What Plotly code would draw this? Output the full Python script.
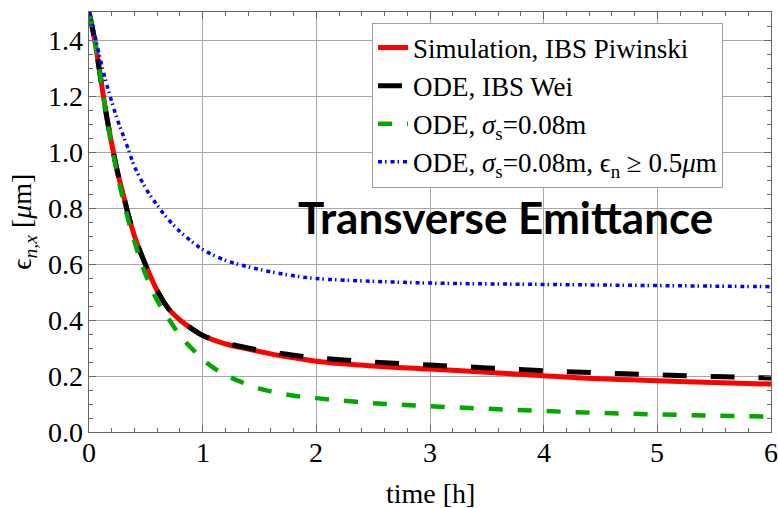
import plotly.graph_objects as go

# ---- data ----
t_red = [0, 0.05, 0.1, 0.15, 0.2, 0.25, 0.3, 0.35, 0.4, 0.45, 0.5, 0.6, 0.7, 0.8, 0.9, 1.0,
         1.2, 1.4, 1.6, 1.8, 2.0, 2.5, 3.0, 3.5, 4.0, 4.5, 5.0, 5.5, 6.0]
v_red = [1.50, 1.40, 1.27, 1.14, 1.03, 0.93, 0.85, 0.77, 0.70, 0.645, 0.595, 0.505, 0.44, 0.40, 0.37, 0.345,
         0.315, 0.296, 0.279, 0.265, 0.253, 0.236, 0.225, 0.213, 0.201, 0.190, 0.183, 0.177, 0.171]

t_black = [0, 0.05, 0.1, 0.15, 0.2, 0.25, 0.3, 0.35, 0.4, 0.45, 0.5, 0.6, 0.7, 0.8, 0.9, 1.0,
           1.2, 1.4, 1.6, 1.8, 2.0, 2.5, 3.0, 3.5, 4.0, 4.5, 5.0, 5.5, 6.0]
v_black = [1.50, 1.40, 1.27, 1.14, 1.03, 0.93, 0.85, 0.77, 0.70, 0.645, 0.595, 0.505, 0.44, 0.40, 0.37, 0.345,
           0.318, 0.300, 0.286, 0.274, 0.265, 0.250, 0.239, 0.229, 0.219, 0.211, 0.204, 0.198, 0.193]

t_green = [0, 0.05, 0.1, 0.15, 0.2, 0.25, 0.3, 0.35, 0.4, 0.45, 0.5, 0.6, 0.7, 0.8, 0.9, 1.0,
           1.1, 1.2, 1.3, 1.5, 1.75, 2.0, 2.5, 3.0, 3.5, 4.0, 4.5, 5.0, 5.5, 6.0]
v_green = [1.50, 1.40, 1.27, 1.14, 1.02, 0.92, 0.83, 0.75, 0.68, 0.615, 0.56, 0.47, 0.405, 0.345, 0.30, 0.26,
           0.228, 0.204, 0.185, 0.155, 0.133, 0.121, 0.103, 0.092, 0.083, 0.075, 0.068, 0.063, 0.058, 0.055]

t_blue = [0, 0.05, 0.1, 0.15, 0.2, 0.25, 0.3, 0.35, 0.4, 0.5, 0.6, 0.7, 0.8, 0.9, 1.0,
          1.2, 1.4, 1.6, 1.8, 2.0, 2.5, 3.0, 3.5, 4.0, 4.5, 5.0, 5.5, 6.0]
v_blue = [1.50, 1.42, 1.33, 1.25, 1.18, 1.115, 1.06, 1.005, 0.948, 0.87, 0.81, 0.758, 0.716, 0.682, 0.652,
          0.613, 0.590, 0.572, 0.558, 0.548, 0.538, 0.532, 0.529, 0.527, 0.525, 0.523, 0.521, 0.519]

names = ["Simulation, IBS Piwinski",
         "ODE, IBS Wei",
         "ODE, <i>σ</i><sub>s</sub>=0.08m",
         "ODE, <i>σ</i><sub>s</sub>=0.08m, ϵ<sub>n</sub> ≥ 0.5<i>μ</i>m"]

x_range = [0, 6]
y_range = [0, 1.5]
x_ticks = [0, 1, 2, 3, 4, 5, 6]
x_ticklabels = ["0", "1", "2", "3", "4", "5", "6"]
y_ticks = [0.0, 0.2, 0.4, 0.6, 0.8, 1.0, 1.2, 1.4]
y_ticklabels = ["0.0", "0.2", "0.4", "0.6", "0.8", "1.0", "1.2", "1.4"]

SERIF = "Liberation Serif"
FS = 28
FRAME = "#666666"
TICKFONT = dict(family=SERIF, size=FS, color="black")

fig = go.Figure()
fig.add_trace(go.Scatter(x=t_red, y=v_red, mode="lines", name=names[0],
                         line=dict(color="#FF0000", width=5, shape="spline")))
fig.add_trace(go.Scatter(x=t_black, y=v_black, mode="lines", name=names[1],
                         line=dict(color="#000000", width=5, dash="24px,24px", shape="spline")))
fig.add_trace(go.Scatter(x=t_green, y=v_green, mode="lines", name=names[2],
                         line=dict(color="#00A800", width=4.5, dash="14px,15px", shape="spline")))
fig.add_trace(go.Scatter(x=t_blue, y=v_blue, mode="lines", name=names[3],
                         line=dict(color="#0000FF", width=3.5, dash="4px,3px,1.5px,4px", shape="spline")))
# empty trace so the minor-tick overlay axes exist
fig.add_trace(go.Scatter(x=[], y=[], xaxis="x2", yaxis="y2", showlegend=False, hoverinfo="skip"))

fig.update_layout(
    width=778, height=508,
    margin=dict(l=89, r=7, t=12, b=76),
    paper_bgcolor="white", plot_bgcolor="white",
    font=dict(family=SERIF, size=FS, color="black"),
    xaxis=dict(range=x_range, tickmode="array", tickvals=x_ticks, showticklabels=False,
               showline=True, linecolor=FRAME, linewidth=1.3, mirror="ticks",
               ticks="inside", ticklen=7, tickwidth=1, tickcolor=FRAME,
               showgrid=True, gridcolor="#A8A8A8", gridwidth=1, zeroline=False),
    yaxis=dict(range=y_range, tickmode="array", tickvals=y_ticks, showticklabels=False,
               showline=True, linecolor=FRAME, linewidth=1.3, mirror="ticks",
               ticks="inside", ticklen=7, tickwidth=1, tickcolor=FRAME,
               showgrid=True, gridcolor="#A8A8A8", gridwidth=1, zeroline=False),
    xaxis2=dict(range=x_range, overlaying="x", anchor="y", side="bottom",
                tickmode="linear", tick0=0, dtick=0.2,
                ticks="inside", ticklen=4, tickwidth=1, tickcolor=FRAME,
                showline=True, linecolor=FRAME, linewidth=1.3, mirror="ticks",
                showticklabels=False, showgrid=False, zeroline=False),
    yaxis2=dict(range=y_range, overlaying="y", anchor="x", side="left",
                tickmode="linear", tick0=0, dtick=0.05,
                ticks="inside", ticklen=4, tickwidth=1, tickcolor=FRAME,
                showline=True, linecolor=FRAME, linewidth=1.3, mirror="ticks",
                showticklabels=False, showgrid=False, zeroline=False),
    legend=dict(x=0.415, y=0.975, xanchor="left", yanchor="top",
                bgcolor="white", bordercolor="#A0A0A0", borderwidth=1,
                font=dict(family=SERIF, size=27, color="black"),
                itemwidth=30, tracegroupgap=0),
    showlegend=True,
)

# tick labels, placed on the axes' own scales
for xv, lab in zip(x_ticks, x_ticklabels):
    fig.add_annotation(text=lab, xref="x", x=xv, yref="paper", y=-0.048,
                       xanchor="center", yanchor="middle", showarrow=False, font=TICKFONT)
for yv, lab in zip(y_ticks, y_ticklabels):
    fig.add_annotation(text=lab, xref="paper", x=-0.006, yref="y", y=yv,
                       xanchor="right", yanchor="middle", showarrow=False, font=TICKFONT)

fig.add_annotation(text="ϵ<sub><i>n,x</i></sub> [<i>μ</i>m]", xref="paper", yref="paper",
                   x=-0.097, y=0.5, xanchor="center", yanchor="middle",
                   textangle=-90, showarrow=False,
                   font=dict(family=SERIF, size=FS, color="black"))
fig.add_annotation(text="time [h]", xref="paper", yref="paper",
                   x=0.5, y=-0.147, xanchor="center", yanchor="middle", showarrow=False,
                   font=dict(family=SERIF, size=FS, color="black"))
fig.add_annotation(text="<b>Transverse Emittance</b>", xref="paper", yref="paper",
                   x=0.611, y=0.513, xanchor="center", yanchor="middle", showarrow=False,
                   font=dict(family="Lato", size=44, color="black"))

fig.write_html("out.html")
